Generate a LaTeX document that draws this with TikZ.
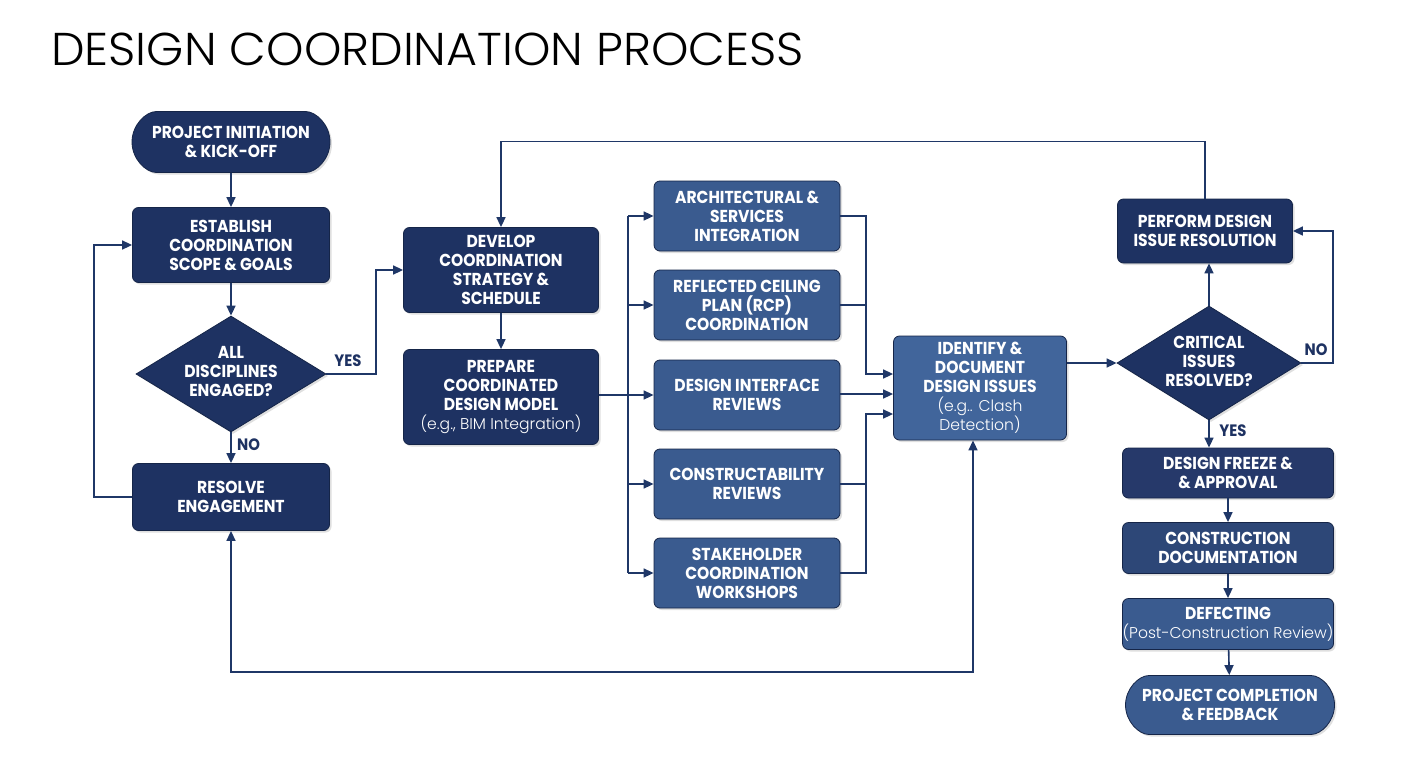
\documentclass[tikz,border=0pt]{standalone}
\usepackage{fontspec}
\setmainfont{Poppins}
\newfontfamily\boxfont{Poppins}[FakeStretch=0.9]
\newfontfamily\lightfont{Poppins Light}
\newfontfamily\titlefont{Poppins Light}[FakeStretch=1.035]
\usetikzlibrary{shapes.geometric,shapes.misc,arrows.meta,shadows,calc}
\definecolor{navy}{HTML}{1E3262}
\definecolor{navyb}{HTML}{26396A}
\definecolor{navyc}{HTML}{2D4777}
\definecolor{midblue}{HTML}{3A5B8F}
\definecolor{idblue}{HTML}{41659B}
\definecolor{edgec}{HTML}{152548}
\definecolor{linec}{HTML}{1F3767}
\newcommand{\regtxt}[1]{{\lightfont\mdseries\fontsize{15.6}{19}\selectfont #1}}
\tikzset{
  boxbase/.style={rectangle, rounded corners=6pt, draw=edgec, line width=0.8pt, text=white,
    font=\boxfont\bfseries\fontsize{17.3}{19}\selectfont, align=center, inner sep=0pt,
    drop shadow={shadow xshift=2pt, shadow yshift=-2pt, opacity=0.25}},
  darkbox/.style={boxbase, fill=navy},
  midbox/.style={boxbase, fill=midblue},
  pill/.style={boxbase, rounded rectangle},
  diam/.style={diamond, fill=navy, draw=edgec, line width=0.8pt, inner sep=0pt,
    drop shadow={shadow xshift=2pt, shadow yshift=-2pt, opacity=0.25}},
  dtext/.style={text=white, align=center, font=\boxfont\bfseries\fontsize{17.3}{19}\selectfont},
  arr/.style={draw=linec, line width=1.6pt, -{Triangle[length=10pt,width=9pt]}},
  ln/.style={draw=linec, line width=1.6pt},
  lbl/.style={text=navy, font=\boxfont\bfseries\fontsize{16.5}{18}\selectfont}
}
\begin{document}
\begin{tikzpicture}[x=1pt,y=-1pt]
\useasboundingbox (0,0) rectangle (1408,768);
\fill[white] (0,0) rectangle (1408,768);

% title
\node[anchor=base west, inner sep=0pt, font=\titlefont\fontsize{46}{50}\selectfont] (title) at (51,66) {DESIGN COORDINATION PROCESS};

% left column
\node[pill, fill=navy, minimum width=198pt, minimum height=61pt] (start) at (231,142) {PROJECT INITIATION\\\& KICK-OFF};
\node[darkbox, minimum width=197pt, minimum height=75pt] (est) at (231,245) {ESTABLISH\\COORDINATION\\SCOPE \& GOALS};
\node[diam, minimum width=190pt, minimum height=116pt] (d1) at (231,374) {};
\node[dtext] (d1t) at (231,371) {ALL\\DISCIPLINES\\ENGAGED?};
\node[darkbox, minimum width=197pt, minimum height=67pt] (res) at (231,497) {RESOLVE\\ENGAGEMENT};

% second column
\node[darkbox, minimum width=195pt, minimum height=85pt] (dev) at (501,270) {DEVELOP\\COORDINATION\\STRATEGY \&\\SCHEDULE};
\node[darkbox, minimum width=195pt, minimum height=95pt] (prep) at (501,397) {PREPARE\\COORDINATED\\DESIGN MODEL\\\regtxt{(e.g., BIM Integration)}};

% middle column
\node[midbox, minimum width=186pt, minimum height=70pt] (arch) at (747,216) {ARCHITECTURAL \&\\SERVICES\\INTEGRATION};
\node[midbox, minimum width=186pt, minimum height=70pt] (rcp) at (747,305) {REFLECTED CEILING\\PLAN (RCP)\\COORDINATION};
\node[midbox, minimum width=186pt, minimum height=70pt] (intf) at (747,395) {DESIGN INTERFACE\\REVIEWS};
\node[midbox, minimum width=186pt, minimum height=70pt] (cons) at (747,484) {CONSTRUCTABILITY\\REVIEWS};
\node[midbox, minimum width=186pt, minimum height=70pt] (stake) at (747,573) {STAKEHOLDER\\COORDINATION\\WORKSHOPS};

% identify
\node[boxbase, fill=idblue, minimum width=173pt, minimum height=104pt] (ident) at (980,388) {IDENTIFY \&\\DOCUMENT\\DESIGN ISSUES\\\regtxt{(e.g.. Clash}\\\regtxt{Detection)}};

% right part
\node[diam, minimum width=184pt, minimum height=114pt] (d2) at (1209,363) {};
\node[dtext] (d2t) at (1209,361) {CRITICAL\\ISSUES\\RESOLVED?};
\node[darkbox, minimum width=175pt, minimum height=64pt] (perf) at (1205,231) {PERFORM DESIGN\\ISSUE RESOLUTION};
\node[boxbase, fill=navyb, minimum width=211pt, minimum height=50pt] (freeze) at (1228,473) {DESIGN FREEZE \&\\\& APPROVAL};
\node[boxbase, fill=navyc, minimum width=211pt, minimum height=51pt] (constr) at (1228,548) {CONSTRUCTION\\DOCUMENTATION};
\node[midbox, minimum width=211pt, minimum height=51pt] (defect) at (1228,624) {DEFECTING\\\regtxt{(Post-Construction Review)}};
\node[pill, fill=midblue, minimum width=209pt, minimum height=59pt] (done) at (1230,705) {PROJECT COMPLETION\\\& FEEDBACK};

% coordinates
\coordinate (loopx) at (94,0);
\coordinate (yesx) at (376,0);
\coordinate (busx) at (628,0);
\coordinate (mergex) at (866,0);
\coordinate (nox) at (1333,0);
\coordinate (bot) at (600,672);

% left connectors
\draw[arr] (start) -- (est);
\draw[arr] (est) -- (d1);
\draw[arr] (d1) -- node[lbl, right=2pt, pos=0.4] (nol) {NO} (res);
\draw[arr] (res.west) -| (loopx |- res.west) |- (est.west);
\draw[arr] (d1.east) -| (yesx |- d1.east) |- (dev.west);
\node[lbl] (yesl) at (348,361) {YES};
\draw[arr] (dev) -- (prep);

% bus
\draw[arr] (prep.east |- intf.west) -- (intf.west);
\draw[ln] (busx |- arch.west) -- (busx |- stake.west);
\draw[arr] (busx |- arch.west) -- (arch.west);
\draw[arr] (busx |- rcp.west) -- (rcp.west);
\draw[arr] (busx |- cons.west) -- (cons.west);
\draw[arr] (busx |- stake.west) -- (stake.west);

% merge
\coordinate (in1) at ($(ident.west)+(0,-14)$);
\coordinate (in2) at ($(ident.west)+(0,6)$);
\coordinate (in3) at ($(ident.west)+(0,26)$);
\draw[arr] (arch.east) -| (mergex |- in1) -- (in1);
\draw[ln] (rcp.east) -- (mergex |- rcp.east);
\draw[arr] (intf.east |- in2) -- (in2);
\draw[arr] (cons.east) -| (mergex |- in3) -- (in3);
\draw[ln] (stake.east) -| (mergex |- cons.east);

% right connectors
\draw[arr] (ident.east |- d2.west) -- (d2.west);
\draw[arr] (d2.north) -- (d2.north |- perf.south);
\draw[arr] (d2.east) -| (nox |- d2.east) |- (perf.east);
\node[lbl] (nor) at (1316,350) {NO};
\draw[arr] (d2.south) -- (d2.south |- freeze.north);
\node[lbl] (yesr) at (1233,431) {YES};
\draw[arr] (freeze) -- (constr);
\draw[arr] (constr) -- (defect);
\draw[arr] (defect) -- (done);

% top loop
\draw[arr] (perf.north) -- ++(0,-57) -| (dev.north);

% bottom loop
\draw[ln, {Triangle[length=10pt,width=9pt]}-{Triangle[length=10pt,width=9pt]}] (res.south) |- (bot) -| ($(ident.south)+(-7,0)$);
\end{tikzpicture}
\end{document}
